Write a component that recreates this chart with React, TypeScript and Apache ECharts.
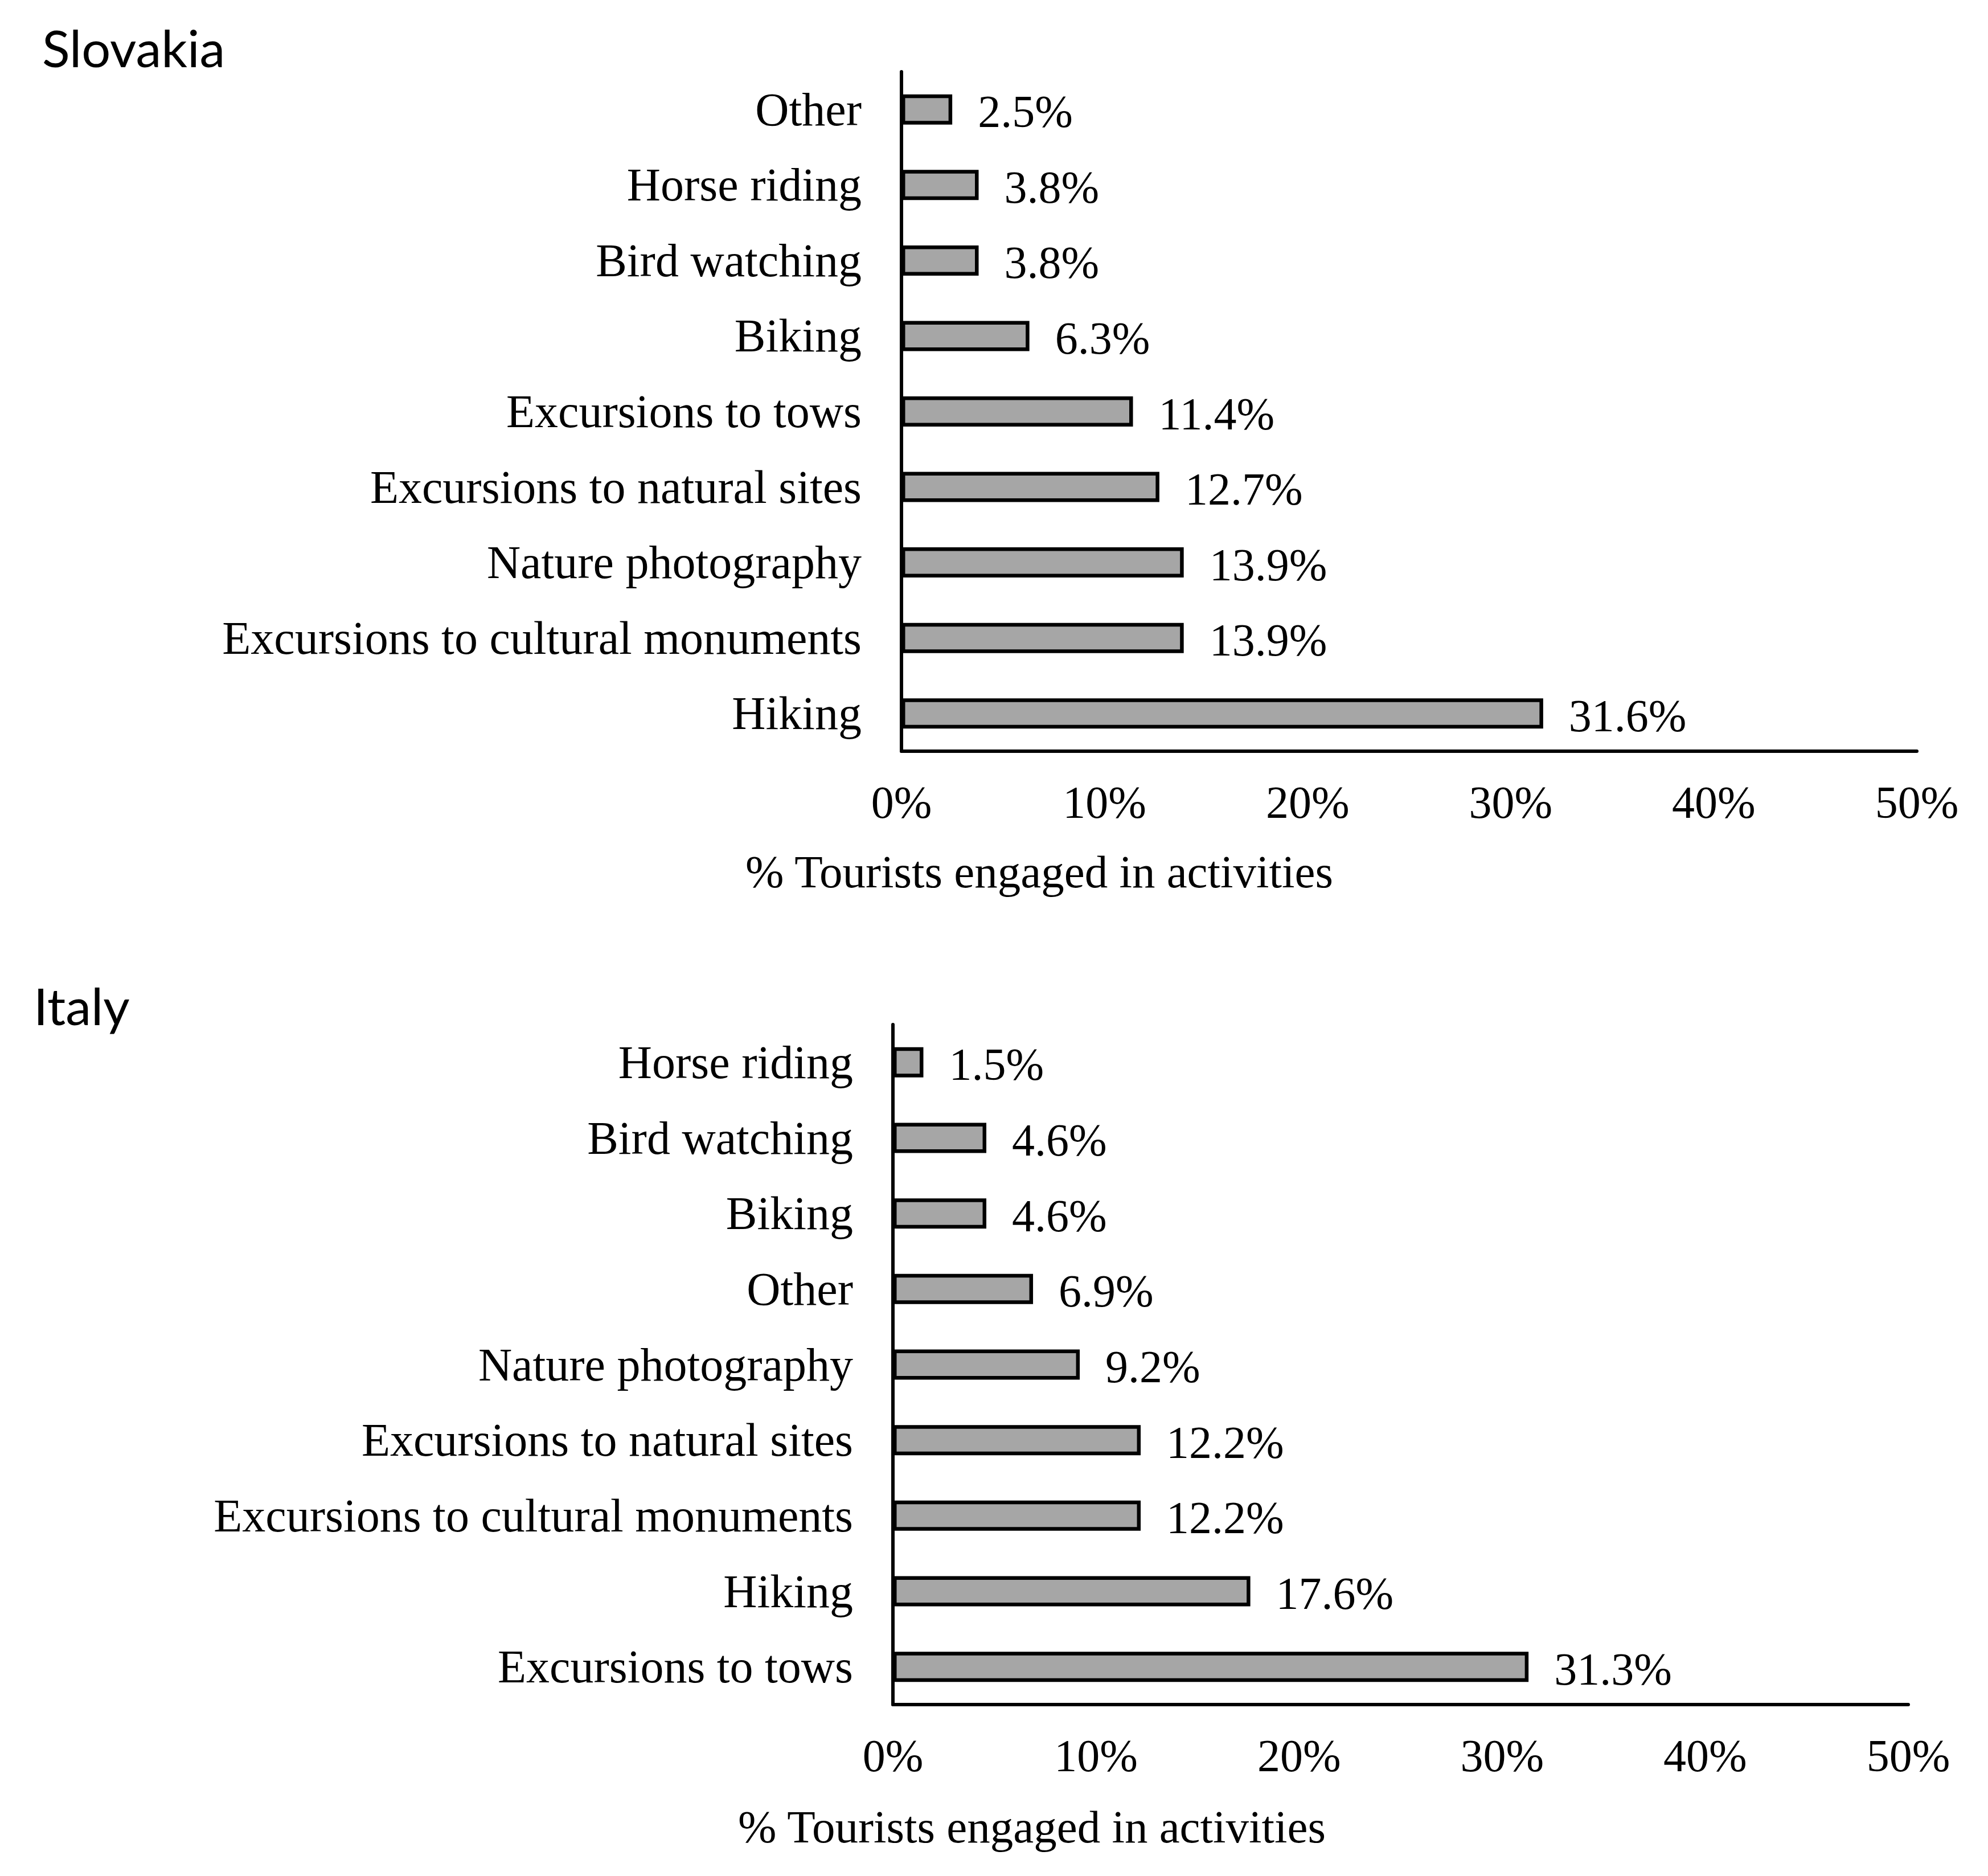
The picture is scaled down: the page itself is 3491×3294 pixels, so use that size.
import React, { useEffect, useRef } from "react";
import * as echarts from "echarts";

const slovakiaCategories = [
  "Other",
  "Horse riding",
  "Bird watching",
  "Biking",
  "Excursions to tows",
  "Excursions to natural sites",
  "Nature photography",
  "Excursions to cultural monuments",
  "Hiking",
];
const slovakiaValues = [2.5, 3.8, 3.8, 6.3, 11.4, 12.7, 13.9, 13.9, 31.6];

const italyCategories = [
  "Horse riding",
  "Bird watching",
  "Biking",
  "Other",
  "Nature photography",
  "Excursions to natural sites",
  "Excursions to cultural monuments",
  "Hiking",
  "Excursions to tows",
];
const italyValues = [1.5, 4.6, 4.6, 6.9, 9.2, 12.2, 12.2, 17.6, 31.3];

const panelTitles = ["Slovakia", "Italy"];
const axisTitle = "% Tourists engaged in activities";
const xMin = 0;
const xMax = 50;
const xInterval = 10;

const SERIF = "'Liberation Serif', 'Times New Roman', serif";
const SANS = "Lato, 'Open Sans', sans-serif";

export default function App() {
  const ref = useRef<HTMLDivElement>(null);

  useEffect(() => {
    if (!ref.current) return;
    const chart = echarts.init(ref.current, undefined, { renderer: "svg" });

    const grids = [
      { left: 1583, top: 126, width: 1783, height: 1193 },
      { left: 1568, top: 1799, width: 1783, height: 1194 },
    ];

    const mkX = (gi: number) => ({
      type: "value",
      gridIndex: gi,
      min: xMin,
      max: xMax,
      interval: xInterval,
      axisLine: { show: true, onZero: false, lineStyle: { color: "#000", width: 6 } },
      axisTick: { show: false },
      splitLine: { show: false },
      axisLabel: {
        formatter: "{value}%",
        fontFamily: SERIF,
        fontSize: 80,
        color: "#000",
        margin: 50,
      },
    });

    const mkY = (gi: number, cats: string[]) => ({
      type: "category",
      gridIndex: gi,
      data: cats,
      inverse: true,
      axisLine: { show: true, lineStyle: { color: "#000", width: 6 } },
      axisTick: { show: false },
      splitLine: { show: false },
      axisLabel: {
        fontFamily: SERIF,
        fontSize: 82,
        color: "#000",
        margin: 70,
      },
    });

    const mkSeries = (gi: number, vals: number[]) => ({
      type: "bar",
      xAxisIndex: gi,
      yAxisIndex: gi,
      data: vals,
      barWidth: 53,
      itemStyle: { color: "#A6A6A6", borderColor: "#000", borderWidth: 6.5 },
      label: {
        show: true,
        position: "right",
        distance: 45,
        offset: [0, 4],
        formatter: (p: any) => p.value.toFixed(1) + "%",
        fontFamily: SERIF,
        fontSize: 80,
        color: "#000",
      },
    });

    chart.setOption({
      animation: false,
      backgroundColor: "#fff",
      grid: grids,
      xAxis: [mkX(0), mkX(1)],
      yAxis: [mkY(0, slovakiaCategories), mkY(1, italyCategories)],
      series: [mkSeries(0, slovakiaValues), mkSeries(1, italyValues)],
      graphic: [
        {
          type: "text",
          left: 74,
          top: 38,
          style: { text: panelTitles[0], font: `90px ${SANS}`, fill: "#000" },
        },
        {
          type: "text",
          left: 59,
          top: 1720,
          style: { text: panelTitles[1], font: `90px ${SANS}`, fill: "#000" },
        },
        {
          type: "text",
          x: 1825,
          y: 1531,
          style: {
            text: axisTitle,
            font: `81px ${SERIF}`,
            fill: "#000",
            align: "center",
            verticalAlign: "middle",
          },
        },
        {
          type: "text",
          x: 1812,
          y: 3208,
          style: {
            text: axisTitle,
            font: `81px ${SERIF}`,
            fill: "#000",
            align: "center",
            verticalAlign: "middle",
          },
        },
      ],
    });

    return () => chart.dispose();
  }, []);

  return (
    <div
      ref={ref}
      style={{ position: "absolute", left: 0, top: 0, width: 3491, height: 3294 }}
    />
  );
}
